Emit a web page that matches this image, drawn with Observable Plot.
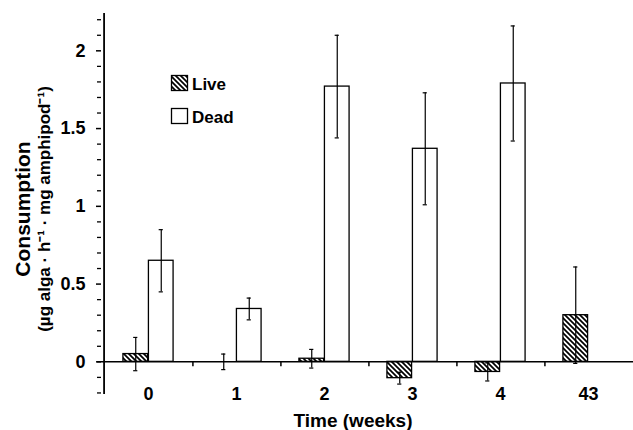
<!DOCTYPE html>
<html>
<head>
<meta charset="utf-8">
<script src="https://cdn.jsdelivr.net/npm/d3@7"></script>
<script src="https://cdn.jsdelivr.net/npm/@observablehq/plot@0.6"></script>
<style>
  html, body { margin: 0; padding: 0; background: #fff; }
  #chart { width: 633px; height: 430px; overflow: hidden; }
</style>
</head>
<body>
<div id="chart"></div>
<script>
// ---- data ----
const weeks = ["0", "1", "2", "3", "4", "43"];
const liveMean = [0.05, 0.0, 0.02, -0.105, -0.065, 0.30];
const liveErr  = [0.107, 0.05, 0.06, 0.038, 0.058, 0.31];
const deadMean = [0.65, 0.34, 1.77, 1.37, 1.79, 0.0];
const deadErr  = [0.20, 0.07, 0.33, 0.36, 0.37, 0.0];
const series = ["Live", "Dead"];
const yMajorTicks = [0, 0.5, 1, 1.5, 2];
const yTickLabels = ["0", "0.5", "1", "1.5", "2"];
const yMinorTicks = [-0.2, -0.1, 0.1, 0.2, 0.3, 0.4, 0.6, 0.7, 0.8, 0.9, 1.1, 1.2, 1.3, 1.4,
                     1.6, 1.7, 1.8, 1.9, 2.1, 2.2];
const xTitle = "Time (weeks)";
const yTitle1 = "Consumption";
const yTitle2 = "(µg alga · h⁻¹ · mg amphipod⁻¹)";

// ---- layout ----
const W = 633, H = 430;
const xRange = [101, 634];
const bw = (xRange[1] - xRange[0]) / weeks.length;
const barW = 25.5;
const capHalf = 2.5;

const live = weeks.map((w, i) => ({week: w, series: series[0], mean: liveMean[i], err: liveErr[i]}));
const dead = weeks.map((w, i) => ({week: w, series: series[1], mean: deadMean[i], err: deadErr[i]}));
const liveE = live.filter(d => d.err > 0);
const deadE = dead.filter(d => d.err > 0);

const font = "'Liberation Sans', Arial, Helvetica, sans-serif";

const plot = Plot.plot({
  width: W,
  height: H,
  marginLeft: 101,
  marginRight: 0,
  marginTop: 13,
  marginBottom: 36,
  style: {fontFamily: font, background: "white", color: "black", overflow: "visible"},
  x: {type: "band", domain: weeks, range: xRange, padding: 0},
  y: {domain: [-0.21, 2.24]},
  marks: [
    // bars
    Plot.barY(live, {x: "week", y1: 0, y2: "mean", fill: "url(#hatch)", stroke: "black", strokeWidth: 1.3,
      insetLeft: bw / 2 - barW, insetRight: bw / 2}),
    Plot.barY(dead, {x: "week", y1: 0, y2: "mean", fill: "white", stroke: "black", strokeWidth: 1.3,
      insetLeft: bw / 2, insetRight: bw / 2 - barW}),
    // error bars
    Plot.ruleX(liveE, {x: "week", y1: d => d.mean - d.err, y2: d => d.mean + d.err, dx: -barW / 2, stroke: "black", strokeWidth: 1.2}),
    Plot.ruleX(deadE, {x: "week", y1: d => d.mean - d.err, y2: d => d.mean + d.err, dx: barW / 2, stroke: "black", strokeWidth: 1.2}),
    Plot.tickY(liveE, {x: "week", y: d => d.mean + d.err, stroke: "black", strokeWidth: 1.2,
      insetLeft: bw / 2 - barW / 2 - capHalf, insetRight: bw / 2 + barW / 2 - capHalf}),
    Plot.tickY(liveE, {x: "week", y: d => d.mean - d.err, stroke: "black", strokeWidth: 1.2,
      insetLeft: bw / 2 - barW / 2 - capHalf, insetRight: bw / 2 + barW / 2 - capHalf}),
    Plot.tickY(deadE, {x: "week", y: d => d.mean + d.err, stroke: "black", strokeWidth: 1.2,
      insetLeft: bw / 2 + barW / 2 - capHalf, insetRight: bw / 2 - barW / 2 - capHalf}),
    Plot.tickY(deadE, {x: "week", y: d => d.mean - d.err, stroke: "black", strokeWidth: 1.2,
      insetLeft: bw / 2 + barW / 2 - capHalf, insetRight: bw / 2 - barW / 2 - capHalf}),
    // zero line (x axis)
    Plot.ruleY([0], {stroke: "black", strokeWidth: 1.5, insetLeft: -4}),
    // x ticks at category boundaries
    Plot.ruleX(weeks.slice(0, -1), {x: d => d, y1: 0, y2: 0, dx: bw / 2, insetBottom: -5, stroke: "black", strokeWidth: 1.5}),
    // y axis line
    Plot.ruleX([weeks[0]], {x: d => d, dx: -bw / 2, stroke: "black", strokeWidth: 1.8}),
    // y axis ticks + labels
    Plot.axisY({ticks: yMajorTicks, tickSize: 5, tickPadding: 11, strokeWidth: 1.5,
      tickFormat: d => yTickLabels[yMajorTicks.indexOf(d)], fontSize: 18, fontWeight: "bold", label: null}),
    Plot.axisY({ticks: yMinorTicks, tickSize: 4, strokeWidth: 1.3, tickFormat: () => "", label: null}),
    // x axis labels
    Plot.axisX({tickSize: 0, tickPadding: -7, fontSize: 18, fontWeight: "bold", label: null}),
    // titles
    Plot.text([xTitle], {text: d => d, frameAnchor: "bottom", textAnchor: "middle", lineAnchor: "middle", dx: -14.5, dy: 26,
      fontSize: 19, fontWeight: "bold"}),
    Plot.text([yTitle1], {text: d => d, frameAnchor: "left", textAnchor: "middle", lineAnchor: "middle", rotate: -90, dx: -78.5, dy: 5,
      fontSize: 21, fontWeight: "bold"}),
    Plot.text([yTitle2], {text: d => d, frameAnchor: "left", textAnchor: "middle", lineAnchor: "middle", rotate: -90, dx: -56.5, dy: 5,
      fontSize: 17, fontWeight: "bold"})
  ]
});

// hatch pattern + legend
const svg = d3.select(plot);
const defs = svg.insert("defs", ":first-child");
const pat = defs.append("pattern").attr("id", "hatch").attr("patternUnits", "userSpaceOnUse")
  .attr("width", 5).attr("height", 5);
pat.append("rect").attr("width", 5).attr("height", 5).attr("fill", "white");
pat.append("path").attr("d", "M-1,-1L6,6M-1,4L1,6M4,-1L6,1").attr("stroke", "black").attr("stroke-width", 1.7);

const lg = svg.append("g").attr("font-family", font).attr("font-size", 17).attr("font-weight", "bold")
  .attr("text-anchor", "start");
series.forEach((s, i) => {
  const y0 = 75 + i * 33;
  lg.append("rect").attr("x", 171.5).attr("y", y0 + 0.5).attr("width", 16).attr("height", 15)
    .attr("fill", i === 0 ? "url(#hatch)" : "white").attr("stroke", "black").attr("stroke-width", 1.3);
  lg.append("text").attr("x", 192).attr("y", y0 + 15).attr("fill", "black").text(s);
});

document.getElementById("chart").appendChild(plot);
</script>
</body>
</html>
